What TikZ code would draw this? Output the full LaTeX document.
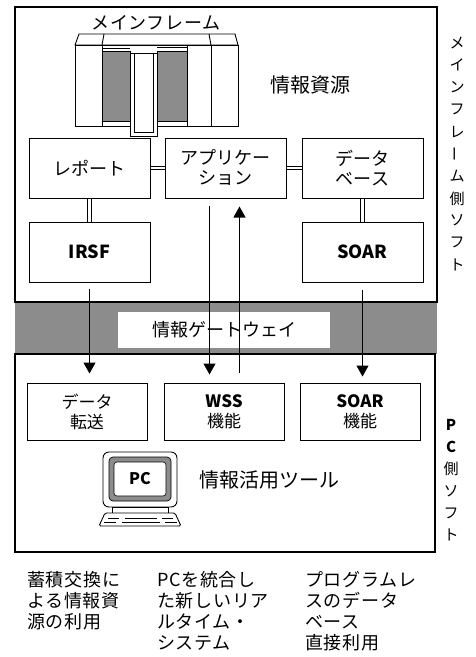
\documentclass[tikz,border=0pt]{standalone}
\usepackage{fontspec}
\setmainfont{Noto Sans CJK JP}
\usetikzlibrary{arrows.meta,positioning}
\definecolor{dotGray}{HTML}{8C8C8C}

\begin{document}
\begin{tikzpicture}[
    x=1pt, y=-1pt,
    >={Triangle[length=11pt,width=12pt]},
    every node/.style={align=center, inner sep=0pt},
    frame/.style={draw, line width=1.3pt},
    unitbox/.style={draw, line width=1pt, minimum width=121pt, minimum height=60pt, font=\fontsize{18}{20}\selectfont},
    pcbox/.style={unitbox, minimum width=120pt, minimum height=57pt, font=\fontsize{17}{20}\selectfont},
    bus/.style={double, double distance=2.6pt, line width=0.8pt},
    flow/.style={->, line width=1.1pt},
    dots/.style={fill=dotGray},
    part/.style={draw, line width=0.9pt, fill=white},
    sidetext/.style={font=\fontsize{15}{15}\selectfont},
    caption/.style={anchor=north west, align=left, font=\addfontfeatures{LetterSpace=4}\fontsize{18}{21}\selectfont}
]
    \useasboundingbox (0,0) rectangle (476,657);

    % gateway band and the two frames
    \fill[dots] (15,302) rectangle (437,354);
    \draw[frame] (15,7) rectangle (437,302);
    \draw[frame] (15,354) rectangle (435,552);
    \node[fill=white, minimum width=212pt, minimum height=36pt, font=\fontsize{18}{20}\selectfont] (gw) at (224,330) {情報ゲートウェイ};

    % mainframe cabinets
    \node[font=\addfontfeatures{LetterSpace=4}\fontsize{18}{20}\selectfont] (mflabel) at (156,23) {メインフレーム};
    \draw[part] (75,45) -- (79,34) -- (235,34) -- (238,45) -- cycle;
    \draw[line width=0.9pt] (104,34) -- (102,45) (209,34) -- (211,45);
    \draw[part] (75,45) rectangle (102,126);
    \draw[part] (211,45) rectangle (238,126);
    \draw[part] (102,45) rectangle (211,126);
    \draw[line width=0.9pt] (187,45) -- (187,126);
    \draw[line width=0.7pt] (102,48) -- (130,48) (157,47) -- (187,47);
    \draw[dots, draw, line width=0.7pt] (102,51) rectangle (130,121);
    \draw[dots, draw, line width=0.7pt] (157,51) rectangle (187,121);
    \draw[part] (130,53) rectangle (157,136);
    \draw[line width=0.6pt] (134,53) -- (134,132) -- (153,132) -- (153,53);
    \node[font=\fontsize{20}{22}\selectfont] (res) at (310,85) {情報資源};

    % mainframe side
    \node[unitbox] (rep) at (89.5,168) {レポート};
    \node[unitbox, right=14pt of rep] (app) {アプリケー\\ション};
    \node[unitbox, right=15pt of app] (db) {データ\\ベース};
    \node[unitbox, below=23pt of rep] (irsf) {\bfseries IRSF};
    \node[unitbox, below=23pt of db] (soar) {\bfseries SOAR};

    \draw[bus] (rep) -- (app);
    \draw[bus] (app) -- (db);
    \draw[bus] (rep) -- (irsf);
    \draw[bus] (db) -- (soar);

    % PC side
    \node[pcbox] (dt) at (87,411.5) {データ\\転送};
    \node[pcbox, right=16pt of dt] (wss) {{\bfseries WSS}\\機能};
    \node[pcbox, right=15pt of wss] (soarpc) {{\bfseries SOAR}\\機能};

    \draw[flow] ([yshift=-6pt]irsf.south) -- ([yshift=9pt]irsf.south |- dt.north);
    \draw[flow] ([xshift=-16pt,yshift=-7pt]app.south) -- ([xshift=-16pt,yshift=8pt]app.south |- wss.north);
    \draw[flow] ([xshift=14pt,yshift=10pt]app.south |- wss.north) -- ([xshift=14pt,yshift=-8pt]app.south);
    \draw[flow] ([yshift=-7pt]soar.south) -- ([yshift=6pt]soar.south |- soarpc.north);

    % personal computer
    \draw[part, rounded corners=6pt] (103,452) rectangle (177,507);
    \draw[dots, draw, rounded corners=4pt, line width=0.7pt] (109,457) rectangle (171,501);
    \draw[fill=white, rounded corners=3pt, line width=0.6pt] (114,462) rectangle (166,496);
    \node[font=\bfseries\fontsize{16}{16}\selectfont] (pclabel) at (140,479) {PC};
    \draw[part] (112,507) rectangle (168,513);
    \draw[part, rounded corners=1.5pt] (105,513) -- (175,513) -- (181,526) -- (99,526) -- cycle;
    \foreach \a/\b in {108/119,125/157,162/173}
        \draw[line width=1.4pt] (\a,518.5) -- (\b,518.5);
    \foreach \a/\b in {104/116,122/160,165/177}
        \draw[line width=1.4pt] (\a,522.5) -- (\b,522.5);
    \node[font=\fontsize{20}{22}\selectfont] (tool) at (269,480) {情報活用ツール};

    % side labels, one character per step
    \foreach \c [count=\i] in {メ,イ,ン,フ,レ,\rotatebox{90}{ー},ム,側,ソ,フ,ト}
        \node[sidetext] (mf\i) at (457,{43+22.2*(\i-1)}) {\c};
    \foreach \c [count=\i] in {\bfseries P,\bfseries C,側,ソ,フ,ト}
        \node[sidetext] (pc\i) at (451,{425+22*(\i-1)}) {\c};

    % captions
    \node[caption] (cap1) at (27,571) {蓄積交換に\\よる情報資\\源の利用};
    \node[caption] (cap2) at (157,571) {PCを統合し\\た新しいリア\\ルタイム・\\システム};
    \node[caption] (cap3) at (305,571) {プログラムレ\\スのデータ\\ベース\\直接利用};
\end{tikzpicture}
\end{document}
